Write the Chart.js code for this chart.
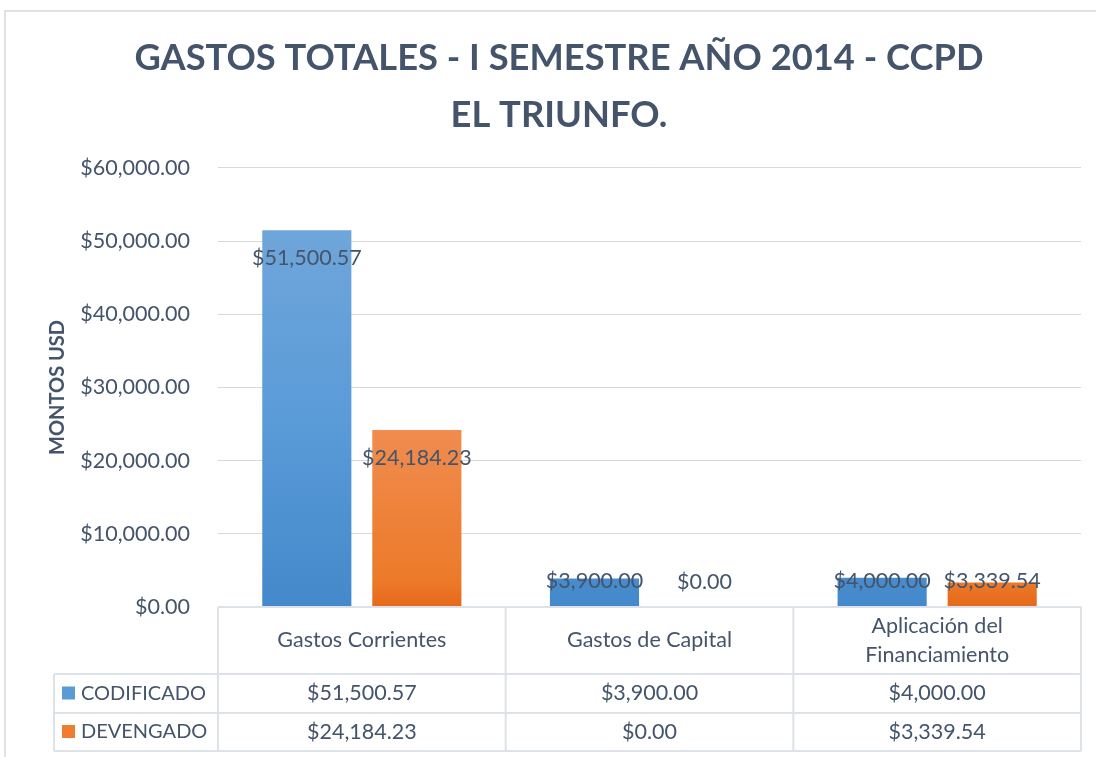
<!DOCTYPE html>
<html>
<head>
<meta charset="utf-8">
<script src="https://cdn.jsdelivr.net/npm/chart.js@4.4.1/dist/chart.umd.min.js"></script>
<style>
  html, body { margin: 0; padding: 0; background: #fff; }
</style>
</head>
<body>
<canvas id="chartGastos" width="1096" height="757"></canvas>
<script>
// datos
const categorias = [['Gastos Corrientes'], ['Gastos de Capital'], ['Aplicación del', 'Financiamiento']];
const series = ['CODIFICADO', 'DEVENGADO'];
const codificado = [51500.57, 3900.00, 4000.00];
const devengado = [24184.23, 0.00, 3339.54];
const ticksY = [0, 10000, 20000, 30000, 40000, 50000, 60000];

const colorTexto = '#44546a';
const colorLinea = '#dde2e8';
const fuenteTexto = '21.5px Lato';

function moneda(v){
    return '$' + v.toLocaleString('en-US', {minimumFractionDigits: 2, maximumFractionDigits: 2});
}

function degradado(stops){
    return (context)=>{
        let area = context.chart.chartArea;
        if(!area) return stops[stops.length - 1][1];
        let g = context.chart.ctx.createLinearGradient(0, area.top, 0, area.bottom);
        stops.forEach(s=>g.addColorStop(s[0], s[1]));
        return g;
    };
}

const azul = degradado([[0, '#76aadd'], [0.14, '#6fa6da'], [0.57, '#5a9bd8'], [1, '#4489cb']]);
const naranja = degradado([[0, '#f4a470'], [0.6, '#f08c4f'], [0.94, '#ec7a2a'], [1, '#e5691a']]);
const colorLeyenda = ['#5b9bd5', '#ed7d31'];

// marco del grafico
const marcoPlugin = {
    id: 'marco',
    beforeDraw(chart){
        let ctx = chart.ctx;
        ctx.save();
        ctx.fillStyle = '#fff';
        ctx.fillRect(0, 0, chart.width, chart.height);
        ctx.strokeStyle = colorLinea;
        ctx.lineWidth = 2;
        ctx.beginPath();
        ctx.moveTo(5, chart.height);
        ctx.lineTo(5, 11);
        ctx.lineTo(chart.width, 11);
        ctx.stroke();
        ctx.restore();
    }
};

// etiquetas de valor sobre las barras
const etiquetasPlugin = {
    id: 'etiquetas',
    afterDatasetsDraw(chart){
        let ctx = chart.ctx;
        ctx.save();
        ctx.font = fuenteTexto;
        ctx.fillStyle = colorTexto;
        ctx.textAlign = 'center';
        ctx.textBaseline = 'middle';
        chart.data.datasets.forEach((ds, i)=>{
            chart.getDatasetMeta(i).data.forEach((bar, j)=>{
                let y = Math.min(bar.y + 28, bar.base - 25);
                ctx.fillText(moneda(ds.data[j]), bar.x, y);
            });
        });
        ctx.restore();
    }
};

// tabla de datos bajo el eje x
const tablaPlugin = {
    id: 'tabla',
    afterDraw(chart){
        let ctx = chart.ctx;
        let x = chart.scales.x;
        let n = categorias.length;
        let ancho = (x.right - x.left) / n;
        let top = chart.chartArea.bottom;
        let filas = [top, top + 67, top + 106, top + 144];
        let izq = 54;

        ctx.save();
        ctx.strokeStyle = colorLinea;
        ctx.lineWidth = 2;
        ctx.beginPath();
        ctx.moveTo(x.left, filas[0]);
        ctx.lineTo(x.right, filas[0]);
        for(let r = 1; r < filas.length; r++){
            ctx.moveTo(izq, filas[r]);
            ctx.lineTo(x.right, filas[r]);
        }
        ctx.moveTo(izq, filas[1]);
        ctx.lineTo(izq, filas[3]);
        for(let k = 0; k <= n; k++){
            ctx.moveTo(x.left + k * ancho, filas[0]);
            ctx.lineTo(x.left + k * ancho, filas[3]);
        }
        ctx.stroke();

        ctx.fillStyle = colorTexto;
        ctx.font = fuenteTexto;
        ctx.textAlign = 'center';
        ctx.textBaseline = 'middle';

        let lh = 29;
        categorias.forEach((c, i)=>{
            let cx = x.getPixelForValue(i);
            let y0 = (filas[0] + filas[1]) / 2 - (c.length - 1) * lh / 2;
            c.forEach((t, k)=>ctx.fillText(t, cx, y0 + k * lh));
        });

        chart.data.datasets.forEach((ds, r)=>{
            let cy = (filas[r + 1] + filas[r + 2]) / 2;
            ctx.font = fuenteTexto;
            ctx.textAlign = 'center';
            ds.data.forEach((v, i)=>{
                ctx.fillText(moneda(v), x.getPixelForValue(i), cy);
            });
            ctx.fillStyle = colorLeyenda[r];
            ctx.fillRect(62, cy - 7, 13, 13);
            ctx.fillStyle = colorTexto;
            ctx.font = '20px Lato';
            ctx.textAlign = 'left';
            ctx.fillText(ds.label, 81, cy);
        });
        ctx.restore();
    }
};

Chart.defaults.font.family = 'Lato';
Chart.defaults.color = colorTexto;

let chartGastos = new Chart(document.getElementById('chartGastos'), {
    type: 'bar',
    data: {
        labels: categorias,
        datasets: [{
            label: series[0],
            data: codificado,
            backgroundColor: azul,
            categoryPercentage: 0.765,
            barPercentage: 0.81
        },{
            label: series[1],
            data: devengado,
            backgroundColor: naranja,
            categoryPercentage: 0.765,
            barPercentage: 0.81
        }]
    },
    options: {
        responsive: false,
        animation: false,
        layout: {
            padding: {left: 37, right: 15, top: 0, bottom: 150}
        },
        plugins: {
            legend: {display: false},
            tooltip: {enabled: false},
            title: {
                display: true,
                text: ['GASTOS TOTALES - I SEMESTRE AÑO 2014 - CCPD', 'EL TRIUNFO.'],
                color: colorTexto,
                font: {family: 'Lato', size: 36.3, weight: 'bold', lineHeight: 1.57},
                padding: {top: 30, bottom: 24}
            }
        },
        scales: {
            x: {
                display: false
            },
            y: {
                min: ticksY[0],
                max: ticksY[ticksY.length - 1],
                afterBuildTicks(scale){
                    scale.ticks = ticksY.map(v=>({value: v}));
                },
                afterFit(scale){
                    scale.width = 181;
                },
                border: {display: false},
                grid: {color: '#d9d9d9', lineWidth: 1, drawTicks: false},
                ticks: {
                    padding: 28,
                    color: colorTexto,
                    font: {size: 21.5},
                    callback: v=>moneda(v)
                },
                title: {
                    display: true,
                    text: 'MONTOS USD',
                    color: colorTexto,
                    font: {size: 20, weight: 'bold'},
                    padding: {top: 9, bottom: 0}
                }
            }
        }
    },
    plugins: [marcoPlugin, etiquetasPlugin, tablaPlugin]
});
</script>
</body>
</html>
